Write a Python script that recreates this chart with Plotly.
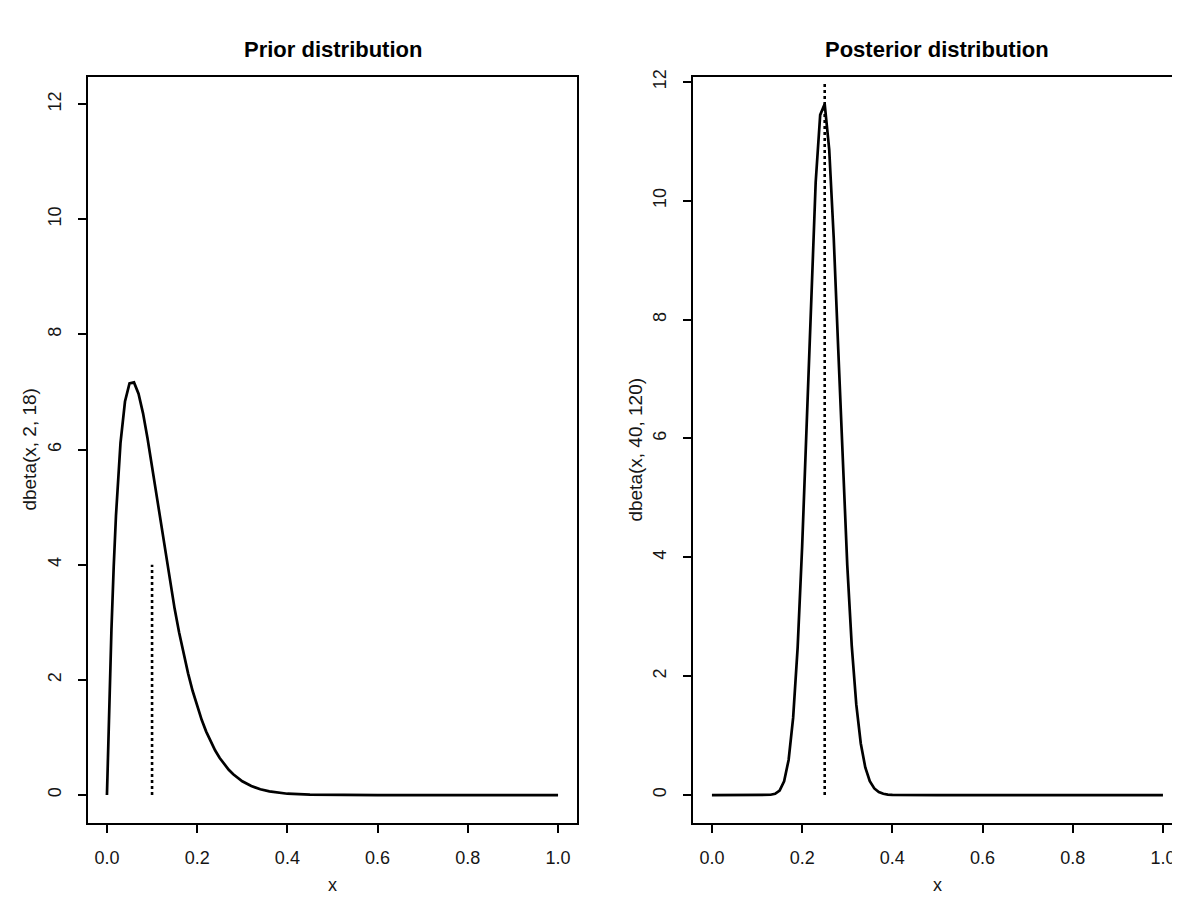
import plotly.graph_objects as go

# ---- data ----
prior_x = [0.00, 0.005, 0.01, 0.015, 0.02, 0.03, 0.04, 0.05, 0.06, 0.07, 0.08, 0.09, 0.10,
           0.11, 0.12, 0.13, 0.14, 0.15, 0.16, 0.17, 0.18, 0.19, 0.20,
           0.21, 0.22, 0.23, 0.24, 0.25, 0.26, 0.27, 0.28, 0.29, 0.30,
           0.32, 0.34, 0.36, 0.38, 0.40, 0.45, 0.50, 0.60, 0.70, 0.80, 0.90, 1.00]
prior_y = [0.000, 1.570, 2.883, 3.968, 4.852, 6.113, 6.835, 7.150, 7.167, 6.972, 6.630, 6.194, 5.704,
           5.189, 4.671, 4.167, 3.687, 3.238, 2.824, 2.448, 2.109, 1.807, 1.540,
           1.306, 1.102, 0.925, 0.773, 0.643, 0.532, 0.439, 0.360, 0.294, 0.239,
           0.156, 0.100, 0.063, 0.038, 0.023, 0.006, 0.001, 0.0, 0.0, 0.0, 0.0, 0.0]

post_x = [0.00, 0.10, 0.11, 0.12, 0.13, 0.14, 0.15, 0.16, 0.17, 0.18, 0.19, 0.20,
          0.21, 0.22, 0.23, 0.24, 0.25, 0.26, 0.27, 0.28, 0.29, 0.30,
          0.31, 0.32, 0.33, 0.34, 0.35, 0.36, 0.37, 0.38, 0.39, 0.40, 0.50, 1.00]
post_y = [0.0, 0.00001, 0.0001, 0.0008, 0.0046, 0.0208, 0.0762, 0.2309, 0.5906, 1.297, 2.481, 4.182,
          6.277, 8.458, 10.311, 11.444, 11.627, 10.866, 9.378, 7.504, 5.582, 3.872,
          2.510, 1.524, 0.868, 0.465, 0.234, 0.111, 0.050, 0.021, 0.008, 0.003, 0.0, 0.0]

prior_mark_x = [0.10, 0.10]
prior_mark_y = [0, 4]
post_mark_x = [0.25, 0.25]
post_mark_y = [0, 12]

x_ticks = [0.0, 0.2, 0.4, 0.6, 0.8, 1.0]
y_ticks = [0, 2, 4, 6, 8, 10, 12]

titles = ["Prior distribution", "Posterior distribution"]
ylabels = ["dbeta(x, 2, 18)", "dbeta(x, 40, 120)"]
xlabel = "x"

# ---- figure ----
W, H = 1180, 901
OFF = 8  # page body margin: screen position = figure position + OFF
FONT = "Liberation Sans, Arial, Helvetica, sans-serif"
TXT = "#151515"

fig = go.Figure()
line = dict(color="black", width=2.7)
dot = dict(color="black", width=2.6, dash="dot")

fig.add_trace(go.Scatter(x=prior_x, y=prior_y, mode="lines", line=line,
                         xaxis="x", yaxis="y", showlegend=False, hoverinfo="skip"))
fig.add_trace(go.Scatter(x=prior_mark_x, y=prior_mark_y, mode="lines", line=dot,
                         xaxis="x", yaxis="y", showlegend=False, hoverinfo="skip"))
fig.add_trace(go.Scatter(x=post_x, y=post_y, mode="lines", line=line,
                         xaxis="x2", yaxis="y2", showlegend=False, hoverinfo="skip"))
fig.add_trace(go.Scatter(x=post_mark_x, y=post_mark_y, mode="lines", line=dot,
                         xaxis="x2", yaxis="y2", showlegend=False, hoverinfo="skip"))


def px_x(p):  # screen px -> paper
    return (p - OFF) / W


def px_y(p):
    return 1 - (p - OFF) / H


box_top, box_bot = 70, 822
ydom = [px_y(box_bot), px_y(box_top)]
left_dom = [px_x(88), px_x(577)]
right_dom = [px_x(693), min(1.0, px_x(1181))]

common_x = dict(showline=True, mirror=True, linecolor="black", linewidth=2.4,
                ticks="outside", ticklen=8, tickwidth=2.4, tickcolor="black",
                tickvals=x_ticks, tickformat=".1f", showgrid=False, zeroline=False,
                tickfont=dict(family=FONT, size=18, color=TXT),
                ticklabelstandoff=10)
common_y = dict(showline=True, mirror=True, linecolor="black", linewidth=2.4,
                ticks="outside", ticklen=8, tickwidth=2.4, tickcolor="black",
                tickvals=y_ticks, showgrid=False, zeroline=False, tickangle=-90,
                tickfont=dict(family=FONT, size=18, color=TXT),
                ticklabelstandoff=10)

fig.update_layout(
    width=W, height=H,
    margin=dict(l=0, r=0, t=0, b=0),
    paper_bgcolor="white", plot_bgcolor="white",
    xaxis=dict(domain=left_dom, range=[-0.042, 1.042], anchor="y", **common_x),
    yaxis=dict(domain=ydom, range=[-0.48, 12.48], anchor="x", **common_y),
    xaxis2=dict(domain=right_dom, range=[-0.042, 1.040], anchor="y2", **common_x),
    yaxis2=dict(domain=ydom, range=[-0.465, 12.09], anchor="x2", **common_y),
)

centers = [(88 + 577) / 2, (693 + 1181) / 2]
ylab_x = [30, 636]
for i in range(2):
    fig.add_annotation(text="<b>%s</b>" % titles[i], x=px_x(centers[i]), y=px_y(43),
                       xref="paper", yref="paper", showarrow=False,
                       font=dict(family=FONT, size=22, color="black"),
                       xanchor="center", yanchor="middle")
    fig.add_annotation(text=xlabel, x=px_x(centers[i]), y=px_y(885),
                       xref="paper", yref="paper", showarrow=False,
                       font=dict(family=FONT, size=18, color=TXT),
                       xanchor="center", yanchor="middle")
    fig.add_annotation(text=ylabels[i], x=px_x(ylab_x[i]), y=px_y((box_top + box_bot) / 2),
                       xref="paper", yref="paper", showarrow=False, textangle=-90,
                       font=dict(family=FONT, size=19, color=TXT),
                       xanchor="center", yanchor="middle")

fig.write_html("out.html")
